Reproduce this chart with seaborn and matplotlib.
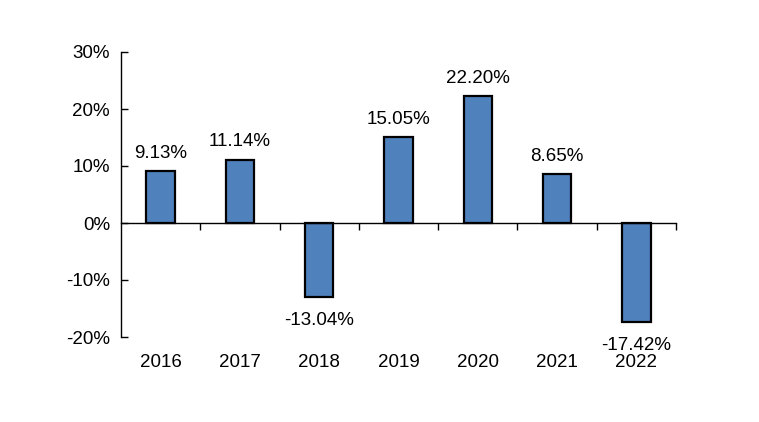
import matplotlib
matplotlib.use("Agg")
import matplotlib.pyplot as plt
import matplotlib.transforms as mtransforms
from matplotlib.ticker import FuncFormatter, FixedLocator
import seaborn as sns
import pandas as pd

years = ["2016", "2017", "2018", "2019", "2020", "2021", "2022"]
returns = [9.13, 11.14, -13.04, 15.05, 22.20, 8.65, -17.42]
labels = ["9.13%", "11.14%", "-13.04%", "15.05%", "22.20%", "8.65%", "-17.42%"]

sns.set_style("white")
plt.rcParams["font.family"] = ["Liberation Sans", "DejaVu Sans"]
plt.rcParams["text.color"] = "black"
plt.rcParams["xtick.color"] = "black"
plt.rcParams["ytick.color"] = "black"
plt.rcParams["axes.labelcolor"] = "black"

FS = 13.5

df = pd.DataFrame({"year": years, "ret": returns})

fig = plt.figure(figsize=(7.59, 4.22), dpi=100)
ax = fig.add_axes([121 / 759, 1 - 337 / 422, (676 - 121) / 759, (337 - 52) / 422])

sns.barplot(data=df, x="year", y="ret", color="#4F81BD", saturation=1,
            edgecolor="black", linewidth=1.6, width=0.36, ax=ax)

ax.set_xlim(-0.5, len(years) - 0.5)
ax.set_ylim(-20, 30)
ax.set_yticks([-20, -10, 0, 10, 20, 30])
ax.yaxis.set_major_formatter(FuncFormatter(lambda v, p: f"{v:.0f}%"))
ax.set_xlabel("")
ax.set_ylabel("")

for s in ["top", "right"]:
    ax.spines[s].set_visible(False)
ax.spines["left"].set_color("black")
ax.spines["left"].set_linewidth(1)
ax.spines["bottom"].set_position(("data", 0))
ax.spines["bottom"].set_color("black")
ax.spines["bottom"].set_linewidth(1)

ax.xaxis.set_major_locator(FixedLocator([i + 0.5 for i in range(len(years))]))
ax.set_xticklabels([])
ax.tick_params(axis="x", direction="out", length=5, width=1, color="black", bottom=True)
ax.tick_params(axis="y", direction="in", length=5, width=1, color="black", left=True,
               labelsize=FS, pad=8)

for i, (v, lab) in enumerate(zip(returns, labels)):
    if v >= 0:
        ax.annotate(lab, (i, v), xytext=(0, 9.5), textcoords="offset points",
                    ha="center", va="baseline", fontsize=FS)
    else:
        ax.annotate(lab, (i, v), xytext=(0, -20), textcoords="offset points",
                    ha="center", va="baseline", fontsize=FS)

trans = mtransforms.blended_transform_factory(ax.transData, ax.transAxes)
for i, y in enumerate(years):
    ax.text(i, -0.107, y, transform=trans, ha="center", va="baseline", fontsize=FS)

fig.savefig("out.png", dpi=100)
